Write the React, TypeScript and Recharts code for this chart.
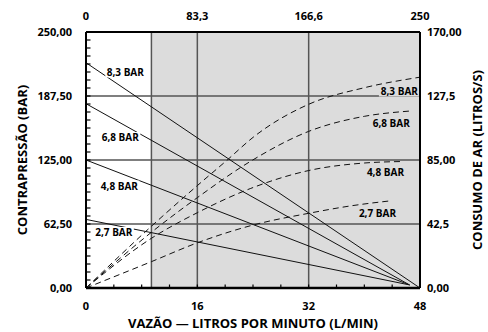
import {
  LineChart,
  Line,
  XAxis,
  YAxis,
  ReferenceLine,
  ReferenceArea,
  ReferenceDot,
  Label,
} from "recharts";

// back-pressure (bar) falling with flow, one line per supply pressure
const pressure83 = [
  { flow: 0, bar: 220 },
  { flow: 48, bar: 0 },
];
const pressure68 = [
  { flow: 0, bar: 180 },
  { flow: 46.5, bar: 3 },
];
const pressure48 = [
  { flow: 0, bar: 125 },
  { flow: 46.5, bar: 3 },
];
const pressure27 = [
  { flow: 0, bar: 67 },
  { flow: 46.5, bar: 3 },
];

// air consumption (l/s) rising with flow
const air83 = [
  { flow: 0, ls: 0 },
  { flow: 9.4, ls: 41 },
  { flow: 16, ls: 68 },
  { flow: 20.3, ls: 85 },
  { flow: 24, ls: 100 },
  { flow: 32, ls: 122 },
  { flow: 40, ls: 133 },
  { flow: 48, ls: 140 },
];
const air68 = [
  { flow: 0, ls: 0 },
  { flow: 9.4, ls: 37 },
  { flow: 16, ls: 60 },
  { flow: 23.6, ls: 84 },
  { flow: 32, ls: 104 },
  { flow: 40, ls: 114 },
  { flow: 46.5, ls: 117.5 },
];
const air48 = [
  { flow: 0, ls: 0 },
  { flow: 9.4, ls: 33 },
  { flow: 16, ls: 50 },
  { flow: 23.6, ls: 66 },
  { flow: 32, ls: 78 },
  { flow: 40, ls: 83 },
  { flow: 45.6, ls: 84 },
];
const air27 = [
  { flow: 0, ls: 0 },
  { flow: 9.4, ls: 17.5 },
  { flow: 16, ls: 30 },
  { flow: 24, ls: 41.8 },
  { flow: 32, ls: 49.6 },
  { flow: 38, ls: 54.5 },
  { flow: 44, ls: 58 },
];

const bottomTicks = [0, 4, 8, 12, 16, 20, 24, 28, 32, 36, 40, 44, 48];
const bottomMajor = [0, 16, 32, 48];
const topLabels = ["0", "83,3", "166,6", "250"];
const leftMajor = [0, 62.5, 125, 187.5, 250];
const leftLabels = ["0,00", "62,50", "125,00", "187,50", "250,00"];
const leftTicks = Array.from({ length: 33 }, (_, i) => i * 7.8125);
const rightTicks = [0, 42.5, 85, 127.5, 170];
const rightLabels = ["0,00", "42,5", "85,00", "127,5", "170,00"];
const shadedFrom = 9.4;

const tagsLeft = [
  { text: "8,3 BAR", flow: 5.65, bar: 211 },
  { text: "6,8 BAR", flow: 4.93, bar: 147 },
  { text: "4,8 BAR", flow: 4.8, bar: 99.6 },
  { text: "2,7 BAR", flow: 4.0, bar: 54.2 },
];
const tagsRight = [
  { text: "8,3 BAR", flow: 47.7, ls: 130.8 },
  { text: "6,8 BAR", flow: 46.54, ls: 109.6 },
  { text: "4,8 BAR", flow: 45.7, ls: 77 },
  { text: "2,7 BAR", flow: 44.55, ls: 49.8 },
];

const font = "'Open Sans', sans-serif";
const tickStyle = { fill: "#000", fontSize: 11, fontWeight: 700, fontFamily: font };
const titleStyle = {
  fill: "#000",
  fontSize: 13,
  fontWeight: 700,
  fontFamily: font,
  textAnchor: "middle" as const,
};
const gridColor = "#555";

// left ticks: short inward mark, label only on the major values
function LeftTick(props: any) {
  const { x, y, payload } = props;
  const i = leftMajor.indexOf(payload.value);
  return (
    <g>
      <line x1={x + 14} x2={x + 18.5} y1={y} y2={y} stroke="#000" strokeWidth={1.2} />
      {i >= 0 && (
        <text x={x} y={y + 4} textAnchor="end" {...tickStyle}>
          {leftLabels[i]}
        </text>
      )}
    </g>
  );
}

function BottomTick(props: any) {
  const { x, y, payload } = props;
  const major = bottomMajor.includes(payload.value);
  return (
    <g>
      <line x1={x} x2={x} y1={y - 18} y2={y - 21.5} stroke="#000" strokeWidth={1.2} />
      {major && (
        <text x={x} y={y + 4} textAnchor="middle" {...tickStyle}>
          {String(payload.value)}
        </text>
      )}
    </g>
  );
}

function Tag(props: any) {
  const { viewBox, text, anchor, bg } = props;
  const w = 38;
  const h = 11;
  const cx = viewBox.x;
  const cy = viewBox.y;
  const left = anchor === "end" ? cx - w : cx - w / 2;
  return (
    <g>
      <rect x={left - 1} y={cy - h / 2} width={w + 2} height={h} fill={bg} />
      <text
        x={cx}
        y={cy + 3.6}
        textAnchor={anchor}
        fontSize={10}
        fontWeight={700}
        fontFamily={font}
        fill="#000"
      >
        {text}
      </text>
    </g>
  );
}

export default function App() {
  return (
    <div style={{ width: 488, height: 332 }}>
      <style>{"body{margin:0}"}</style>
      <LineChart
        width={488}
        height={332}
        margin={{ top: 2, right: 0, bottom: 0, left: 0 }}
      >
        <ReferenceArea
          xAxisId="bottom"
          yAxisId="left"
          x1={shadedFrom}
          x2={48}
          y1={0}
          y2={250}
          fill="#dcdcdc"
          fillOpacity={1}
          stroke="none"
        />
        {leftMajor.slice(1, 4).map((v) => (
          <ReferenceLine
            key={"h" + v}
            xAxisId="bottom"
            yAxisId="left"
            y={v}
            stroke={gridColor}
            strokeWidth={1.5}
          />
        ))}
        {[shadedFrom, 16, 32].map((v) => (
          <ReferenceLine
            key={"v" + v}
            xAxisId="bottom"
            yAxisId="left"
            x={v}
            stroke={gridColor}
            strokeWidth={1.5}
          />
        ))}

        <XAxis
          xAxisId="bottom"
          dataKey="flow"
          type="number"
          domain={[0, 48]}
          allowDataOverflow
          ticks={bottomTicks}
          interval={0}
          tickSize={0}
          tickMargin={18}
          tick={<BottomTick />}
          tickLine={false}
          axisLine={{ stroke: "#000", strokeWidth: 2.5 }}
          height={44}
        >
          <Label
            value="VAZÃO — LITROS POR MINUTO (L/MIN)"
            position="insideBottom"
            offset={4.5}
            style={titleStyle}
          />
        </XAxis>
        <XAxis
          xAxisId="top"
          orientation="top"
          dataKey="flow"
          type="number"
          domain={[0, 48]}
          allowDataOverflow
          ticks={bottomMajor}
          interval={0}
          tickSize={0}
          tickMargin={12}
          tickFormatter={(v: number) => topLabels[bottomMajor.indexOf(v)] ?? ""}
          tick={tickStyle}
          tickLine={false}
          axisLine={{ stroke: "#000", strokeWidth: 2 }}
          height={30}
        />
        <YAxis
          yAxisId="left"
          type="number"
          domain={[0, 250]}
          allowDataOverflow
          ticks={leftTicks}
          interval={0}
          tickSize={0}
          tickMargin={14}
          tick={<LeftTick />}
          tickLine={false}
          axisLine={{ stroke: "#000", strokeWidth: 2 }}
          width={86}
        >
          <Label
            value="CONTRAPRESSÃO (BAR)"
            angle={-90}
            position="insideLeft"
            offset={22}
            style={titleStyle}
          />
        </YAxis>
        <YAxis
          yAxisId="right"
          orientation="right"
          type="number"
          domain={[0, 170]}
          allowDataOverflow
          ticks={rightTicks}
          interval={0}
          tickSize={0}
          tickMargin={7}
          tickFormatter={(v: number) => rightLabels[rightTicks.indexOf(v)] ?? ""}
          tick={tickStyle}
          tickLine={false}
          axisLine={{ stroke: "#000", strokeWidth: 2 }}
          width={68}
        >
          <Label
            value="CONSUMO DE AR (LITROS/S)"
            angle={-90}
            position="insideRight"
            offset={11}
            style={titleStyle}
          />
        </YAxis>

        {[pressure83, pressure68, pressure48, pressure27].map((d, i) => (
          <Line
            key={"p" + i}
            xAxisId="bottom"
            yAxisId="left"
            data={d}
            dataKey="bar"
            type="linear"
            stroke="#111"
            strokeWidth={1}
            dot={false}
            isAnimationActive={false}
          />
        ))}
        {[air83, air68, air48, air27].map((d, i) => (
          <Line
            key={"a" + i}
            xAxisId="bottom"
            yAxisId="right"
            data={d}
            dataKey="ls"
            type="monotone"
            stroke="#111"
            strokeWidth={1}
            strokeDasharray="6 4"
            dot={false}
            isAnimationActive={false}
          />
        ))}

        {tagsLeft.map((t) => (
          <ReferenceDot
            key={"tl" + t.text}
            xAxisId="bottom"
            yAxisId="left"
            x={t.flow}
            y={t.bar}
            r={0}
            stroke="none"
            fill="none"
            label={<Tag text={t.text} anchor="middle" bg="#fff" />}
          />
        ))}
        {tagsRight.map((t) => (
          <ReferenceDot
            key={"tr" + t.text}
            xAxisId="bottom"
            yAxisId="right"
            x={t.flow}
            y={t.ls}
            r={0}
            stroke="none"
            fill="none"
            label={<Tag text={t.text} anchor="end" bg="#dcdcdc" />}
          />
        ))}
      </LineChart>
    </div>
  );
}
